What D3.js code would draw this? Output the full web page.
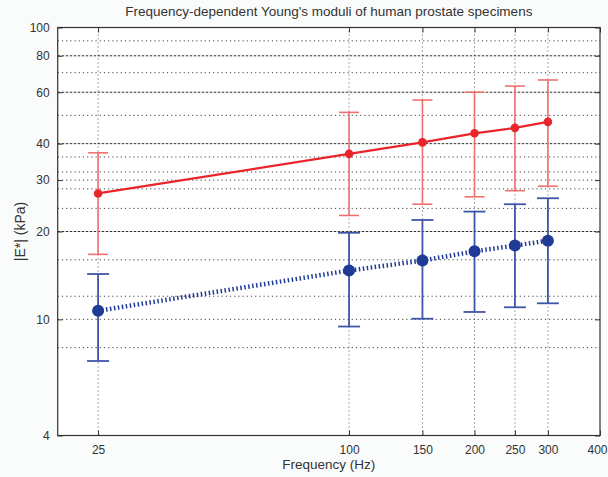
<!DOCTYPE html>
<html>
<head>
<meta charset="utf-8">
<script src="https://cdn.jsdelivr.net/npm/d3@7"></script>
<style>
  body { margin: 0; background: #fafbfb; }
  svg text { font-family: "Liberation Sans", Arial, sans-serif; fill: #333; }
</style>
</head>
<body>
<div id="chart"></div>
<script>
// Data
const frequencies = [25, 100, 150, 200, 250, 300];
const redMean  = [27.0, 36.9, 40.4, 43.4, 45.3, 47.5];
const redUpper = [37.2, 51.2, 56.4, 60.0, 63.0, 66.1];
const redLower = [16.7, 22.7, 24.8, 26.3, 27.6, 28.6];
const blueMean  = [10.7, 14.7, 15.9, 17.1, 17.9, 18.6];
const blueUpper = [14.3, 19.8, 21.9, 23.4, 24.8, 26.0];
const blueLower = [7.2, 9.45, 10.05, 10.6, 11.0, 11.35];

const xTicks = [25, 100, 150, 200, 250, 300, 400];
const yTicks = [4, 10, 20, 30, 40, 60, 80, 100];
const yGridDense = [20, 40, 60, 80];
const yGridDotted = [8, 10, 12, 16, 24, 28, 30, 32, 36, 50, 70, 90];

const width = 608, height = 477;
const margin = {top: 27.5, right: 8, bottom: 41.5, left: 57.7};

const svg = d3.select("#chart").append("svg")
    .attr("width", width)
    .attr("height", height);

const x = d3.scaleLog()
    .domain([20, 400])
    .range([margin.left, width - margin.right]);

const y = d3.scaleLog()
    .domain([4, 100])
    .range([height - margin.bottom, margin.top]);

const x0 = x.range()[0], x1 = x.range()[1];
const y0 = y.range()[0], y1 = y.range()[1];

// plot background
svg.append("rect")
    .attr("x", x0).attr("y", y1)
    .attr("width", x1 - x0).attr("height", y0 - y1)
    .attr("fill", "#fff");

// horizontal grid
svg.append("g").selectAll("line")
    .data(yGridDotted)
    .enter().append("line")
    .attr("x1", x0).attr("x2", x1)
    .attr("y1", d => y(d)).attr("y2", d => y(d))
    .attr("stroke", "#444")
    .attr("stroke-width", 1)
    .attr("stroke-dasharray", "1.2,3");

svg.append("g").selectAll("line")
    .data(yGridDense)
    .enter().append("line")
    .attr("x1", x0).attr("x2", x1)
    .attr("y1", d => y(d)).attr("y2", d => y(d))
    .attr("stroke", "#333")
    .attr("stroke-width", 1)
    .attr("stroke-dasharray", "2.5,1.5");

// vertical grid
svg.append("g").selectAll("line")
    .data(frequencies)
    .enter().append("line")
    .attr("x1", d => x(d)).attr("x2", d => x(d))
    .attr("y1", y0).attr("y2", y1)
    .attr("stroke", "#555")
    .attr("stroke-width", 1)
    .attr("stroke-dasharray", "1,3");

// axes with inward ticks
svg.append("g")
    .attr("transform", `translate(0,${y0})`)
    .call(d3.axisBottom(x).tickValues(xTicks).tickFormat(d3.format("d"))
        .tickSizeInner(-5).tickSizeOuter(0).tickPadding(10))
    .call(g => g.select(".domain").remove())
    .call(g => g.selectAll(".tick text").filter(d => d === 400)
        .attr("text-anchor", "end").attr("dx", "7"));

svg.append("g")
    .attr("transform", `translate(0,${y1})`)
    .call(d3.axisTop(x).tickValues(xTicks).tickFormat("")
        .tickSizeInner(-5).tickSizeOuter(0))
    .call(g => g.select(".domain").remove());

svg.append("g")
    .attr("transform", `translate(${x0},0)`)
    .call(d3.axisLeft(y).tickValues(yTicks).tickFormat(d3.format("d"))
        .tickSizeInner(-5).tickSizeOuter(0).tickPadding(8))
    .call(g => g.select(".domain").remove());

svg.append("g")
    .attr("transform", `translate(${x1},0)`)
    .call(d3.axisRight(y).tickValues(yTicks).tickFormat("")
        .tickSizeInner(-5).tickSizeOuter(0))
    .call(g => g.select(".domain").remove());

svg.selectAll(".tick line").attr("stroke", "#333");
svg.selectAll(".tick text")
    .style("font-size", "12px")
    .attr("fill", "#333");

// box
svg.append("rect")
    .attr("x", x0).attr("y", y1)
    .attr("width", x1 - x0).attr("height", y0 - y1)
    .attr("fill", "none")
    .attr("stroke", "#333")
    .attr("stroke-width", 1.2);

// series drawing
function drawSeries(mean, upper, lower, opts) {
    const g = svg.append("g");
    const rows = frequencies.map((f, i) => ({f, m: mean[i], u: upper[i], l: lower[i]}));

    // error bars
    g.selectAll(".err")
        .data(rows)
        .enter().append("line")
        .attr("x1", d => x(d.f)).attr("x2", d => x(d.f))
        .attr("y1", d => y(d.u)).attr("y2", d => y(d.l))
        .attr("stroke", opts.errColor)
        .attr("stroke-width", opts.errWidth);

    ["u", "l"].forEach(k => {
        g.selectAll(".cap" + k)
            .data(rows)
            .enter().append("line")
            .attr("x1", d => x(d.f) - opts.cap).attr("x2", d => x(d.f) + opts.cap)
            .attr("y1", d => y(d[k])).attr("y2", d => y(d[k]))
            .attr("stroke", opts.errColor)
            .attr("stroke-width", opts.errWidth);
    });

    // mean line
    const line = d3.line().x(d => x(d.f)).y(d => y(d.m));
    g.append("path")
        .datum(rows)
        .attr("d", line)
        .attr("fill", "none")
        .attr("stroke", opts.color)
        .attr("stroke-width", opts.lineWidth)
        .attr("stroke-dasharray", opts.dash);

    g.selectAll("circle")
        .data(rows)
        .enter().append("circle")
        .attr("cx", d => x(d.f))
        .attr("cy", d => y(d.m))
        .attr("r", opts.r)
        .attr("fill", opts.color);
}

drawSeries(redMean, redUpper, redLower, {
    color: "#e8252a", errColor: "#f07070", errWidth: 1.6, cap: 10,
    lineWidth: 2.2, dash: null, r: 4.3
});

drawSeries(blueMean, blueUpper, blueLower, {
    color: "#1f3b96", errColor: "#3f55aa", errWidth: 1.8, cap: 11,
    lineWidth: 4.5, dash: "1.5,2.5", r: 6
});

// title and labels
svg.append("text")
    .attr("x", (x0 + x1) / 2)
    .attr("y", 16)
    .attr("text-anchor", "middle")
    .style("font-size", "13.5px")
    .text("Frequency-dependent Young's moduli of human prostate specimens");

svg.append("text")
    .attr("x", (x0 + x1) / 2)
    .attr("y", 469)
    .attr("text-anchor", "middle")
    .style("font-size", "13.5px")
    .text("Frequency (Hz)");

svg.append("text")
    .attr("transform", `translate(25,${(y0 + y1) / 2}) rotate(-90)`)
    .attr("text-anchor", "middle")
    .style("font-size", "14px")
    .text("|E*| (kPa)");
</script>
</body>
</html>
